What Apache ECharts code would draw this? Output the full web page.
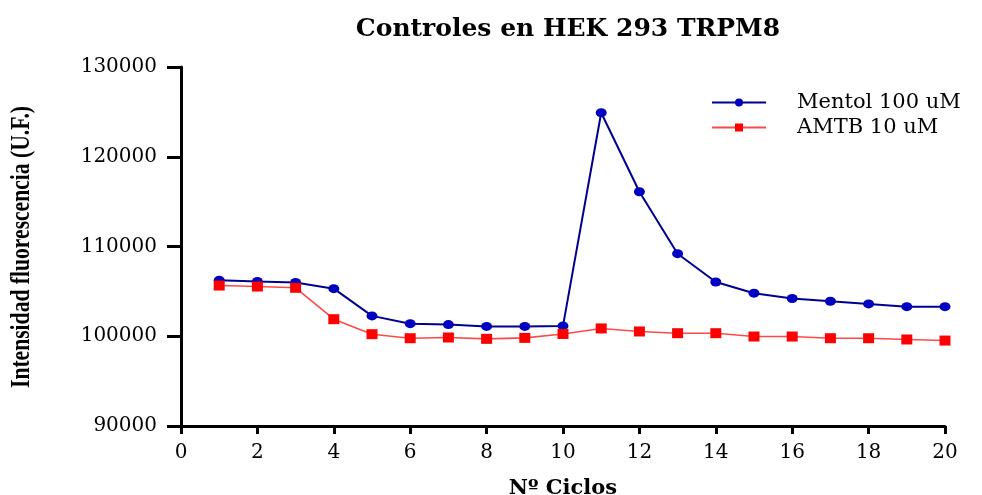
<!DOCTYPE html>
<html><head><meta charset="utf-8">
<script src="https://cdn.jsdelivr.net/npm/echarts@6/dist/echarts.min.js"></script>
<style>html,body{margin:0;padding:0;background:#fff}#c{width:982px;height:495px}</style>
</head><body><div id="c"></div>
<script>
const cycles = [1,2,3,4,5,6,7,8,9,10,11,12,13,14,15,16,17,18,19,20];
const mentol = [106250,106100,106000,105300,102270,101400,101300,101100,101100,101150,124900,116100,109200,106050,104800,104200,103900,103600,103300,103300];
const amtb = [105650,105540,105400,101900,100230,99780,99860,99710,99820,100250,100870,100530,100340,100340,99970,99970,99780,99780,99640,99520];
const seriesNames = ['Mentol 100 uM','AMTB 10 uM'];
const yTitle = 'Intensidad fluorescencia (U.F.)';
const font = '"DejaVu Serif", "Liberation Serif", serif';
const tfont = '"Liberation Serif", serif';
const chart = echarts.init(document.getElementById('c'));
chart.setOption({
  animation:false,
  backgroundColor:'#fff',
  title:{text:'Controles en HEK 293 TRPM8',left:563,top:12,textAlign:'center',
    textStyle:{fontFamily:font,fontWeight:'bold',fontSize:25,color:'#000'}},
  legend:{left:706,top:87,orient:'vertical',itemWidth:54,itemHeight:10,itemGap:4,
    textStyle:{fontFamily:font,fontSize:21,color:'#000',padding:[0,0,0,26]},
    data:seriesNames},
  grid:{left:181,right:37,top:67,bottom:69,containLabel:false,outerBoundsMode:'none'},
  graphic:[{type:'text',x:22,y:247,rotation:Math.PI/2,scaleX:0.8,scaleY:1,
    style:{text:yTitle,fontFamily:tfont,fontWeight:'bold',fontSize:27,fill:'#000',
      align:'center',verticalAlign:'middle'}}],
  xAxis:{type:'value',min:0,max:20,interval:2,
    name:'Nº Ciclos',nameLocation:'middle',nameGap:52,
    nameTextStyle:{fontFamily:font,fontWeight:'bold',fontSize:21,color:'#000'},
    axisLine:{lineStyle:{color:'#000',width:3}},
    axisTick:{length:8,lineStyle:{color:'#000',width:3}},
    axisLabel:{fontFamily:font,fontSize:20,color:'#000',margin:17},
    splitLine:{show:false}},
  yAxis:{type:'value',min:90000,max:130000,interval:10000,
    axisLine:{show:true,lineStyle:{color:'#000',width:3}},
    axisTick:{show:true,length:14,lineStyle:{color:'#000',width:3}},
    axisLabel:{fontFamily:font,fontSize:20,color:'#000',margin:24,formatter:v=>String(v)},
    splitLine:{show:false}},
  series:[
    {name:seriesNames[0],type:'line',data:cycles.map((c,i)=>[c,mentol[i]]),
     symbol:'circle',symbolSize:[11,9],
     lineStyle:{color:'#000090',width:2},itemStyle:{color:'#0000c0'}},
    {name:seriesNames[1],type:'line',data:cycles.map((c,i)=>[c,amtb[i]]),
     symbol:'rect',symbolSize:[11,10],
     lineStyle:{color:'#ff4848',width:1.6},itemStyle:{color:'#ff0000'}}
  ]
});
</script></body></html>
